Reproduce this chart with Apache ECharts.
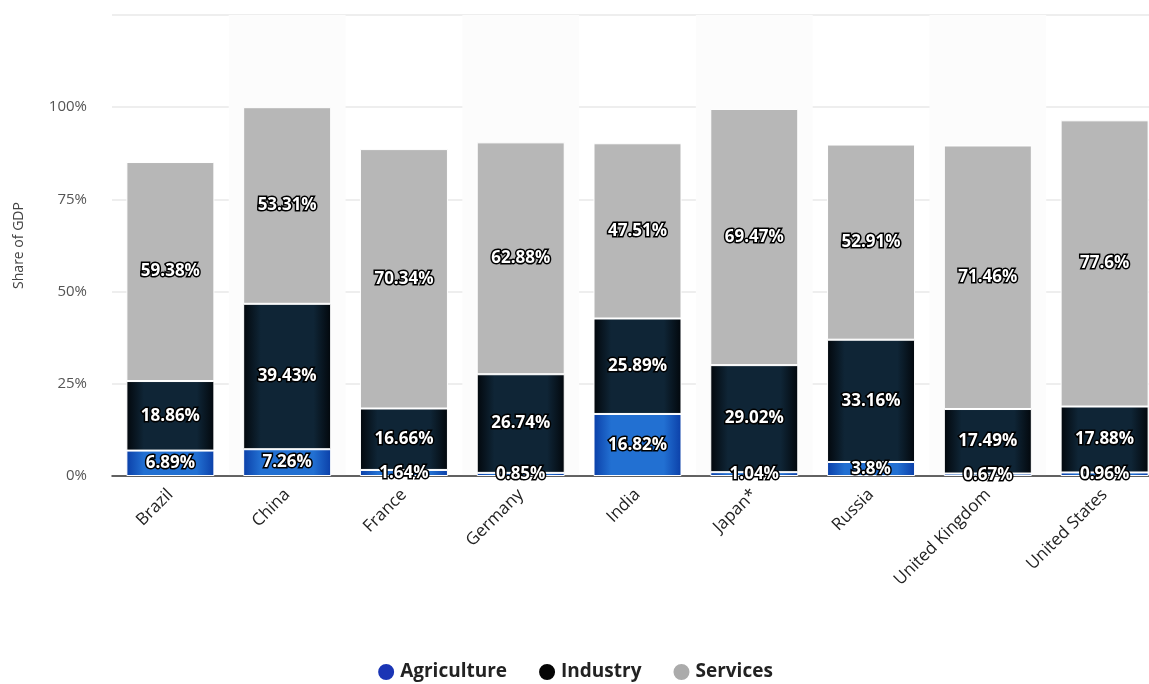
<!DOCTYPE html>
<html>
<head>
<meta charset="utf-8">
<script src="https://cdn.jsdelivr.net/npm/echarts@6/dist/echarts.min.js"></script>
<style>
  html, body { margin: 0; padding: 0; background: #fff; overflow: hidden; }
  #chart { width: 1149px; height: 684px; }
</style>
</head>
<body>
<div id="chart"></div>
<script>
const countries = ['Brazil', 'China', 'France', 'Germany', 'India', 'Japan*', 'Russia', 'United Kingdom', 'United States'];
const agriculture = [6.89, 7.26, 1.64, 0.85, 16.82, 1.04, 3.8, 0.67, 0.96];
const industry = [18.86, 39.43, 16.66, 26.74, 25.89, 29.02, 33.16, 17.49, 17.88];
const services = [59.38, 53.31, 70.34, 62.88, 47.51, 69.47, 52.91, 71.46, 77.6];

const chart = echarts.init(document.getElementById('chart'));

const labelStyle = {
    show: true,
    position: 'inside',
    color: '#fff',
    fontFamily: 'Open Sans',
    fontWeight: 'bold',
    fontSize: 17,
    textBorderColor: '#000',
    textBorderWidth: 3,
    formatter: (p) => p.value + '%',
};

function hGrad(edge, mid) {
    return new echarts.graphic.LinearGradient(0, 0, 1, 0, [
        { offset: 0, color: edge },
        { offset: 0.2, color: mid },
        { offset: 0.8, color: mid },
        { offset: 1, color: edge },
    ]);
}

chart.setOption({
    animation: false,
    grid: { left: 112, width: 1051, top: 15, bottom: 208, outerBoundsMode: 'none', containLabel: false },
    legend: {
        bottom: -3,
        left: 'center',
        icon: 'circle',
        itemWidth: 18,
        itemHeight: 18,
        itemGap: 30,
        textStyle: { color: '#222', fontSize: 19, fontWeight: 'bold', fontFamily: 'Open Sans' },
        data: [
            { name: 'Agriculture', itemStyle: { color: '#1a35b5' } },
            { name: 'Industry', itemStyle: { color: '#050505' } },
            { name: 'Services', itemStyle: { color: '#ababab' } },
        ],
    },
    xAxis: {
        type: 'category',
        data: countries,
        axisLine: { lineStyle: { color: '#333', width: 1.5 } },
        axisTick: { show: false },
        splitArea: { show: true, areaStyle: { color: ['rgba(255,255,255,0)', '#fcfcfc'] } },
        axisLabel: {
            rotate: 45,
            interval: 0,
            margin: 16,
            color: '#222',
            fontSize: 17,
            fontFamily: 'Open Sans',
        },
    },
    yAxis: {
        type: 'value',
        min: 0,
        max: 125,
        interval: 25,
        name: 'Share of GDP',
        nameLocation: 'middle',
        nameGap: 86,
        nameTextStyle: { color: '#444', fontSize: 14, fontFamily: 'Open Sans' },
        axisLine: { show: false },
        axisTick: { show: false },
        axisLabel: {
            color: '#555',
            fontSize: 15,
            fontFamily: 'Open Sans',
            margin: 25,
            formatter: (v) => (v > 100 ? '' : v + '%'),
        },
        splitLine: { lineStyle: { color: '#e8e8e8', width: 1.5 } },
    },
    series: [
        {
            name: 'Agriculture',
            type: 'bar',
            stack: 'gdp',
            barWidth: 88,
            data: agriculture,
            itemStyle: { color: hGrad('#0b3fa8', '#2270d2'), borderColor: '#fff', borderWidth: 1 },
            label: labelStyle,
        },
        {
            name: 'Industry',
            type: 'bar',
            stack: 'gdp',
            barWidth: 88,
            data: industry,
            itemStyle: { color: hGrad('#02070c', '#0f2536'), borderColor: '#fff', borderWidth: 1 },
            label: labelStyle,
        },
        {
            name: 'Services',
            type: 'bar',
            stack: 'gdp',
            barWidth: 88,
            data: services,
            itemStyle: { color: '#b7b7b7', borderColor: '#fff', borderWidth: 1 },
            label: labelStyle,
        },
    ],
});
</script>
</body>
</html>
